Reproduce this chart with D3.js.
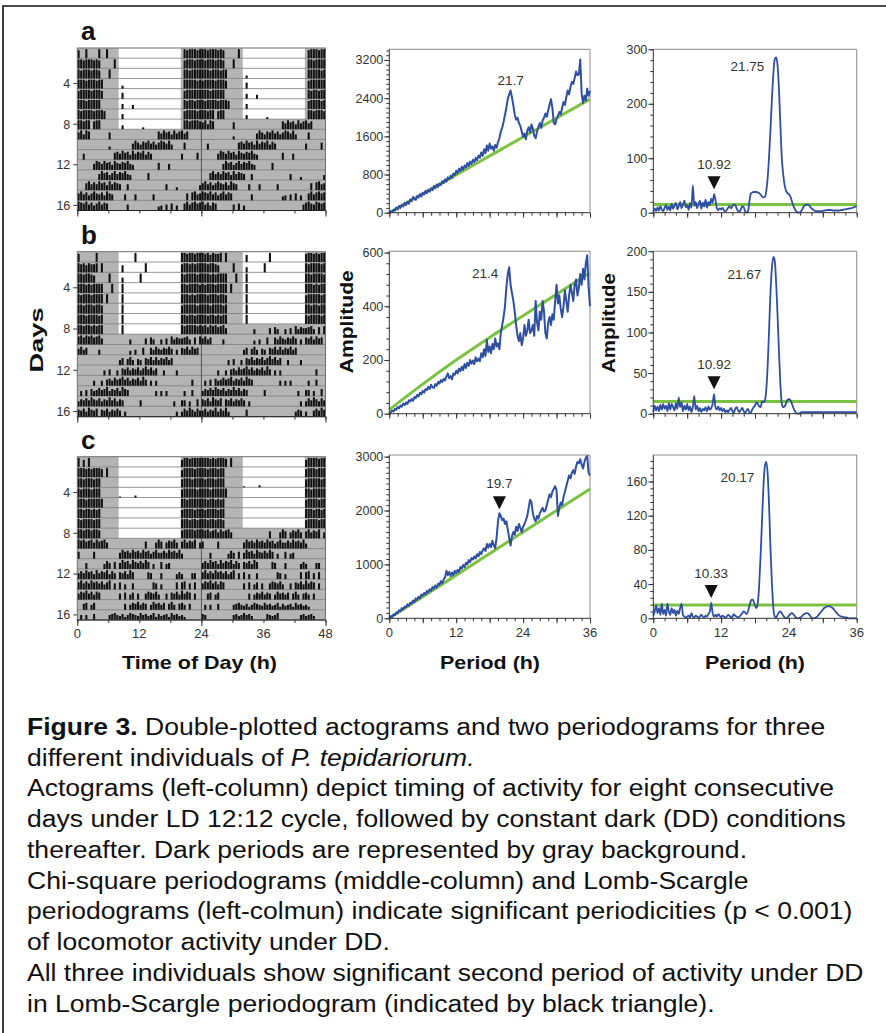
<!DOCTYPE html>
<html>
<head>
<meta charset="utf-8">
<script src="https://cdn.jsdelivr.net/npm/d3@7.9.0/dist/d3.min.js"></script>
<style>
  body { margin: 0; background: #fff; }
  svg { display: block; font-family: "Liberation Sans", Arial, sans-serif; }
  text { white-space: pre; }
</style>
</head>
<body>
<svg id="fig" width="886" height="1033"></svg>
<script>
// ---------- data ----------
const panelLetters = ['a', 'b', 'c'];
const ldDays = 8;               // days 1-8 under LD 12:12
const lightsOn = 8, lightsOff = 20;
const actoRowTicks = [4, 8, 12, 16];
const actoHourTicks = [0, 12, 24, 36, 48];
const periodTicks = [0, 12, 24, 36];

// activity per day, 0.5 h bins (6 groups of 4 h), level 0-9
const actoA = [
  "80090000 90090000 00000000 00000000 00000000 09899989",
  "99899989 80000090 00000000 00000000 00000000 08999899",
  "98999899 80009000 00000000 00000000 00000000 09989999",
  "99989998 99000000 03000000 00000000 00000000 09999989",
  "89999899 98000000 06000000 00000000 00000000 08999999",
  "99989999 90000000 05000400 00000000 00000000 09899899",
  "98999989 99800000 05000000 00000000 00000000 08999989",
  "99899089 90000000 04000000 02000000 00000000 09989998",
  "79598000 00007000 00000000 00000008 69785968 96800000",
  "00000000 00003000 00000697 58796857 98695000 07000000",
  "00600000 00000078 69785968 79586000 00000000 60000070",
  "00000069 86978597 68796500 00000007 00060000 00000000",
  "00000000 69785796 87965000 00070000 00000000 00000000",
  "00079686 97859687 60060000 00000000 00600030 00000005",
  "79685797 68597600 00600060 00000600 00000000 00708967",
  "98796857 96870000 00060000 00000004 50607050 07968978",
  "96858700 00006070 50000000 00000000 00000006 89769878"
];
const actoB = [
  "80000009 00000000 00000090 00000000 00000000 99899899",
  "98979889 09000000 07000000 00900000 00000000 89989899",
  "99899870 00009000 05000000 90000000 00000000 98999989",
  "99989899 99000900 09000000 00000000 00000000 99899998",
  "98999899 99090000 09000000 00000000 00000000 99989899",
  "99899989 98000000 09000000 00000000 00000000 89999989",
  "99989999 89000000 09000000 00000000 00000000 99899899",
  "99899898 99000000 09000000 00000000 00000000 98999989",
  "89798978 96000000 00005000 00607500 50608576 67850708",
  "68570000 50000000 00004050 07007586 57686050 76858670",
  "00000000 00000000 57068506 50768585 76857000 00000000",
  "00000000 00506005 07685768 57968570 05000050 00000000",
  "00000050 05067586 79685768 59605050 00000000 00006000",
  "05060756 86795768 59760000 00000050 50500000 05006000",
  "57686976 85769685 76000000 60000000 00000500 66050070",
  "76859768 07685768 60500000 00000000 00000050 58697586",
  "68576958 69500000 07000000 00000000 00005760 50068697"
];
const actoC = [
  "90709000 00000000 00000000 00000000 00000000 79989999",
  "99989899 98090000 00000000 00000000 00000000 79999899",
  "99899989 90000000 00000000 00000000 00000000 89998999",
  "98999899 90000000 10000020 00000000 00000000 89999989",
  "99989999 99000000 00000000 00000000 00000000 99899999",
  "99899898 90000000 00000000 00000000 00000000 89999899",
  "98999989 90000000 00000000 00000000 00000000 99989989",
  "99899899 80000000 00000000 00000000 00000000 89999899",
  "98978969 78960000 00000000 00700069 70687960 79687906",
  "70000070 00000000 69786978 69785796 68697869 50000000",
  "00060000 00586070 69785976 86970500 70560000 00000000",
  "68697859 68795860 76859700 00076000 60000057 50006600",
  "79686978 68579060 70500600 00000760 50000070 78060700",
  "68796858 70000000 60705706 00687685 00607685 96870600",
  "00670570 00000000 00605768 57605867 57068506 75060000",
  "05050060 00005675 46357654 75645736 45637564 53000000",
  "65000000 00005645 75640000 06545700 00000056 45640000"
];

// periodograms sampled every 0.25 h from 0 to 36 h
const periodStep = 0.25;
const chiA = [
  0,30,10,60, 40,110,70,140, 100,170,130,210, 160,230,190,280,
  240,330,290,270, 350,320,390,340, 420,380,460,410, 480,440,510,470,
  560,510,590,540, 610,580,660,620, 700,650,740,700, 780,730,820,790,
  880,830,920,870, 960,900,990,950, 1040,980,1070,1020, 1110,1060,1150,1100,
  1200,1150,1260,1190, 1330,1250,1410,1300, 1450,1340,1390,1300, 1420,1360,1480,1560,
  1700,1780,1900,2050, 2200,2380,2480,2560, 2420,2250,2060,1950, 1990,1880,1820,1700,
  1590,1660,1540,1720, 1790,1680,1850,1760, 1610,1560,1700,1800, 1880,1780,1930,1990,
  2080,2010,2140,2260, 2380,2200,1880,1850, 1960,2030,2110,2060, 2200,2320,2260,2420,
  2560,2480,2640,2740, 2700,2820,2960,2880, 2900,3210,2500,2300, 2450,2350,2600,2450,
  2550
];
const chiB = [
  0,5,12,8, 18,14,25,20, 30,26,38,32, 42,36,50,45,
  55,48,62,58, 70,64,78,72, 85,78,92,88, 100,92,108,98,
  96,110,104,118, 112,125,118,130, 124,138,150,132, 140,128,150,145,
  160,150,168,158, 175,162,185,170, 190,178,200,186, 198,185,210,195,
  205,195,225,210, 240,215,275,230, 250,225,260,240, 280,250,262,240,
  300,330,360,400, 470,520,545,480, 450,420,380,330, 290,270,300,255,
  280,330,290,310, 350,300,310,330, 290,420,340,310, 380,350,420,380,
  300,280,340,360, 330,370,350,420, 480,410,440,390, 360,400,460,420,
  380,440,480,450, 420,480,500,440, 470,520,480,540, 500,560,590,470,
  400
];
const chiC = [
  0,40,20,70, 60,110,90,150, 130,190,160,220, 200,260,230,290,
  270,330,300,370, 340,400,370,440, 420,470,440,510, 480,540,510,580,
  550,610,570,640, 620,690,650,720, 760,880,800,860, 780,850,800,880,
  840,900,860,950, 920,990,950,1030, 1000,1080,1040,1120, 1090,1150,1110,1190,
  1150,1230,1190,1260, 1300,1250,1380,1310, 1380,1320,1440,1350, 1300,1500,1800,1950,
  1900,1820,1850,1750, 1800,1650,1500,1350, 1520,1600,1550,1700, 1620,1750,1680,1600,
  1700,1750,1820,1900, 2050,2200,2150,1950, 1850,1800,1900,1850, 1950,2000,2050,1980,
  2000,2100,2200,2300, 2250,2350,2400,2450, 2380,1900,2050,2150, 2100,2250,2350,2450,
  2550,2650,2600,2700, 2750,2680,2820,2900, 2880,2950,2850,2780, 2900,2980,3010,2700,
  2650
];
// chi-square significance lines, every 6 h
const thrPeriods = [0, 6, 12, 18, 24, 30, 36];
const chiThrA = [0, 397, 793, 1190, 1587, 1983, 2380];
const chiThrB = [15, 110, 200, 284, 365, 445, 525];
const chiThrC = [0, 400, 800, 1200, 1600, 2000, 2400];

const lsA = [
  2,8,3,10, 4,12,6,3, 9,14,5,11, 4,16,7,13,
  18,6,12,20, 8,15,22,10, 14,5,18,9, 50,12,20,8,
  16,22,7,19, 11,24,9,20, 14,26,18,34, 24,8,5,8,
  6,9,4,2, 5,9,12,8, 12,15,14,8, 3,2,6,12,
  10,3,0,2, 20,35,37,38, 38,38,37,36, 33,30,28,29,
  40,65,105,155, 210,255,282,285, 270,225,160,100, 70,50,40,36,
  34,30,22,14, 8,3,1,0, 1,4,9,13, 15,15,14,11,
  8,6,4,3, 3,3,3,3, 3,4,4,5, 5,5,5,4,
  4,4,4,4, 4,5,5,6, 6,7,7,8, 8,9,10,11,
  12
];
const lsB = [
  2,10,4,9, 3,11,5,12, 6,10,3,13, 5,12,8,4,
  13,6,20,8, 14,3,10,5, 12,4,9,2, 8,22,5,10,
  3,7,2,6, 4,8,3,9, 5,7,12,24, 8,5,9,4,
  7,3,6,2, 4,2,5,7, 3,1,6,8, 4,2,5,7,
  3,1,4,6, 2,1,5,8, 10,14,12,9, 8,15,14,16,
  30,60,105,150, 180,193,188,160, 120,75,35,12, 8,9,13,17,
  18,17,13,8, 4,1,0,0, 1,2,2,2, 2,2,2,2,
  2,2,2,2, 2,2,2,2, 2,2,2,2, 2,2,2,2,
  2,2,2,2, 2,2,2,2, 2,2,2,2, 2,2,2,2,
  2
];
const lsC = [
  3,8,15,6, 12,4,17,5, 10,3,17,8, 4,12,6,10,
  3,9,5,12, 17,4,2,1, 2,3,1,6, 2,1,3,2,
  1,2,4,2, 1,3,2,5, 8,18,6,2, 4,2,5,3,
  1,3,2,1, 2,4,3,1, 2,5,3,2, 1,2,4,6,
  8,7,5,8, 14,20,22,20, 15,12,18,40, 75,115,155,178,
  183,168,130,80, 40,12,2,1, 4,7,8,6, 3,1,0,1,
  3,5,6,5, 3,1,0,0, 1,2,4,5, 6,6,5,3,
  1,0,0,1, 2,4,6,8, 10,12,13,14, 14,14,13,12,
  10,8,6,4, 3,2,2,1, 1,1,0,0, 0,0,0,0,
  0
];
const lsThr = [15, 15, 15.5];

const chiMax = [3424, 605, 3030];
const chiTicks = [[0, 800, 1600, 2400, 3200], [0, 200, 400, 600], [0, 1000, 2000, 3000]];
const chiMinorStep = [100, 40, 100];
const lsMax = [300, 200, 191];
const lsTicks = [[0, 100, 200, 300], [0, 50, 100, 150, 200], [0, 40, 80, 120, 160]];
const lsMinorStep = [20, 10, 8];

const chiPeakLabel = ['21.7', '21.4', '19.7'];
const chiPeakPeriod = [21.75, 21.5, 19.75];
const chiTriangle = [false, false, true];
const lsPeakLabel = ['21.75', '21.67', '20.17'];
const lsPeakPeriod = [21.75, 21.25, 20.0];
const lsSecondLabel = ['10.92', '10.92', '10.33'];
const lsSecondPeriod = [10.75, 10.75, 10.25];

const caption = [
  [['Figure 3.', 'b'], [' Double-plotted actograms and two periodograms for three', '']],
  [['different individuals of ', ''], ['P. tepidariorum.', 'i']],
  [['Actograms (left-column) depict timing of activity for eight consecutive', '']],
  [['days under LD 12:12 cycle, followed by constant dark (DD) conditions', '']],
  [['thereafter. Dark periods are represented by gray background.', '']],
  [['Chi-square periodograms (middle-column) and Lomb-Scargle', '']],
  [['periodograms (left-colmun) indicate significant periodicities (p < 0.001)', '']],
  [['of locomotor activity under DD.', '']],
  [['All three individuals show significant second period of activity under DD', '']],
  [['in Lomb-Scargle periodogram (indicated by black triangle).', '']]
];

// ---------- layout ----------
const svg = d3.select('#fig');
const blue = '#2f4fa2', green = '#7cc242', grayBg = '#b4b4b4';
const plotTop = [49.3, 251.2, 455];
const plotBot = [212.7, 413.7, 618.3];
const actoTop = [48, 251.7, 456.7];
const actoBot = [210.5, 416.7, 620];

const xActo = d3.scaleLinear().domain([0, 48]).range([77.3, 325.5]);
const xChi = d3.scaleLinear().domain([0, 36]).range([389.3, 590]);
const xLs = d3.scaleLinear().domain([0, 36]).range([653.3, 856.7]);

// figure border (left and top)
svg.append('path').attr('d', 'M3,1033V6H886').attr('fill', 'none')
  .attr('stroke', '#111').attr('stroke-width', 1.6);

function styleTicks(sel, size) {
  sel.select('.domain').remove();
  sel.selectAll('.tick line').attr('stroke', '#333');
  sel.selectAll('.tick text').attr('font-family', '"Liberation Sans", Arial, sans-serif')
    .attr('font-size', size || 12.5).attr('fill', '#333');
}

function xTicks(p, x, y0, minorStep, majorVals, labelVals, showLabels) {
  const [d0, d1] = x.domain();
  svg.append('g').attr('transform', `translate(0,${y0})`)
    .call(d3.axisBottom(x).tickValues(d3.range(d0, d1 + 1e-6, minorStep)).tickSize(3).tickFormat(''))
    .call(styleTicks);
  svg.append('g').attr('transform', `translate(0,${y0})`)
    .call(d3.axisBottom(x).tickValues(majorVals).tickSize(5).tickFormat(''))
    .call(styleTicks);
  if (showLabels) {
    svg.append('g').selectAll('text').data(labelVals).join('text')
      .attr('x', d => x(d)).attr('y', y0 + 19)
      .attr('text-anchor', 'middle').attr('font-size', 13).attr('fill', '#333')
      .text(d => d);
  }
  svg.append('line').attr('x1', x.range()[0]).attr('x2', x.range()[1])
    .attr('y1', y0).attr('y2', y0).attr('stroke', '#333');
}

function yTicks(y, x0, majorVals, minorStep) {
  const top = y.domain()[1];
  svg.append('g').attr('transform', `translate(${x0},0)`)
    .call(d3.axisLeft(y).tickValues(d3.range(0, top + 1e-6, minorStep)).tickSize(3).tickFormat(''))
    .call(styleTicks);
  svg.append('g').attr('transform', `translate(${x0},0)`)
    .call(d3.axisLeft(y).tickValues(majorVals).tickSize(5).tickPadding(1).tickFormat(d => String(d)))
    .call(styleTicks);
  svg.append('line').attr('x1', x0).attr('x2', x0)
    .attr('y1', y.range()[0]).attr('y2', y.range()[1]).attr('stroke', '#333');
}

function frame(x, y) {
  const [x0, x1] = x.range(), [yb, yt] = y.range();
  svg.append('path').attr('d', `M${x0},${yt}H${x1}V${yb}`)
    .attr('fill', 'none').attr('stroke', '#8a8a8a').attr('stroke-width', 1);
}

// ---------- actograms ----------
function drawActogram(p, days) {
  const top = actoTop[p], bot = actoBot[p];
  const rh = (bot - top) / 16;
  const bins = days.map(s => s.replace(/ /g, '').split('').map(Number));
  const g = svg.append('g');
  g.append('rect').attr('x', xActo(0)).attr('y', top)
    .attr('width', xActo(48) - xActo(0)).attr('height', bot - top).attr('fill', grayBg);

  const lights = [];
  const bars = [];
  for (let r = 0; r < 16; r++) {
    [0, 1].forEach(half => {
      const d = r + half;
      if (d < ldDays) lights.push({ r, t0: half * 24 + lightsOn, t1: half * 24 + lightsOff });
      bins[d].forEach((v, k) => {
        if (v > 0) bars.push({ r, t: half * 24 + k * 0.5, v });
      });
    });
  }
  g.selectAll('rect.light').data(lights).join('rect').attr('class', 'light')
    .attr('x', d => xActo(d.t0)).attr('width', d => xActo(d.t1) - xActo(d.t0))
    .attr('y', d => top + d.r * rh).attr('height', rh).attr('fill', '#fff');

  g.selectAll('line.row').data(d3.range(1, 16)).join('line').attr('class', 'row')
    .attr('x1', xActo(0)).attr('x2', xActo(48))
    .attr('y1', d => top + d * rh).attr('y2', d => top + d * rh)
    .attr('stroke', '#808080').attr('stroke-width', 0.8);

  g.append('line').attr('x1', xActo(24)).attr('x2', xActo(24))
    .attr('y1', top).attr('y2', bot).attr('stroke', '#555').attr('stroke-width', 1);

  const bw = (xActo(0.5) - xActo(0)) * 0.8;
  g.selectAll('rect.bar').data(bars).join('rect').attr('class', 'bar')
    .attr('x', d => xActo(d.t + 0.05)).attr('width', bw)
    .attr('y', d => top + (d.r + 1) * rh - d.v / 9 * (rh - 1.2))
    .attr('height', d => d.v / 9 * (rh - 1.2)).attr('fill', '#111');

  g.append('rect').attr('x', xActo(0)).attr('y', top)
    .attr('width', xActo(48) - xActo(0)).attr('height', bot - top)
    .attr('fill', 'none').attr('stroke', '#707070');

  // day ticks
  const yDay = d => top + (d - 0.5) * rh;
  g.selectAll('line.dt').data(actoRowTicks).join('line').attr('class', 'dt')
    .attr('x1', xActo(0) - 4).attr('x2', xActo(0)).attr('y1', yDay).attr('y2', yDay).attr('stroke', '#333');
  g.selectAll('text.dl').data(actoRowTicks).join('text').attr('class', 'dl')
    .attr('x', xActo(0) - 7).attr('y', yDay).attr('dy', '0.35em')
    .attr('text-anchor', 'end').attr('font-size', 12.5).attr('fill', '#333').text(d => d);

  // hour axis
  svg.append('line').attr('x1', xActo(0)).attr('x2', xActo(48)).attr('y1', bot).attr('y2', bot).attr('stroke', '#222');
  svg.append('g').attr('transform', `translate(0,${bot})`)
    .call(d3.axisBottom(xActo).tickValues(d3.range(0, 49, 6)).tickSize(3).tickFormat(''))
    .call(styleTicks);
  svg.append('g').attr('transform', `translate(0,${bot})`)
    .call(d3.axisBottom(xActo).tickValues([0, 24, 48]).tickSize(6).tickFormat(''))
    .call(styleTicks);
  if (p === 2) {
    svg.append('g').selectAll('text').data(actoHourTicks).join('text')
      .attr('x', d => xActo(d)).attr('y', bot + 18)
      .attr('text-anchor', 'middle').attr('font-size', 13).attr('fill', '#333').text(d => d);
  }
}

// ---------- periodograms ----------
const periodsOf = vals => vals.map((_, i) => i * periodStep);

function triangle(cx, bottom) {
  svg.append('path').attr('d', `M${cx - 6.5},${bottom - 13}H${cx + 6.5}L${cx},${bottom}Z`).attr('fill', '#111');
}

function drawChi(p, vals, thr) {
  const y = d3.scaleLinear().domain([0, chiMax[p]]).range([plotBot[p], plotTop[p]]);
  frame(xChi, y);
  const pts = periodsOf(vals);
  svg.append('path').datum(thrPeriods.map((t, i) => [t, thr[i]]))
    .attr('d', d3.line().x(d => xChi(d[0])).y(d => y(d[1])).curve(d3.curveMonotoneX))
    .attr('fill', 'none').attr('stroke', green).attr('stroke-width', 3);
  svg.append('path').datum(pts.map((t, i) => [t, vals[i]]))
    .attr('d', d3.line().x(d => xChi(d[0])).y(d => y(d[1])))
    .attr('fill', 'none').attr('stroke', blue).attr('stroke-width', 2).attr('stroke-linejoin', 'round');
  yTicks(y, xChi(0), chiTicks[p], chiMinorStep[p]);
  xTicks(p, xChi, plotBot[p], 1.5, [0, 6, 12, 18, 24, 30, 36], periodTicks, p === 2);

  const i = Math.round(chiPeakPeriod[p] / periodStep);
  const px = xChi(chiPeakPeriod[p]), py = y(vals[i]);
  const lab = svg.append('text').attr('font-size', 13.5).attr('fill', '#333').text(chiPeakLabel[p]);
  if (chiTriangle[p]) {
    triangle(px, py - 4);
    lab.attr('x', px).attr('y', py - 25).attr('text-anchor', 'middle');
  } else if (p === 0) {
    lab.attr('x', px).attr('y', py - 6).attr('text-anchor', 'middle');
  } else {
    lab.attr('x', px - 11).attr('y', py + 11).attr('text-anchor', 'end');
  }
}

const lsLabelDy = [14, 22, 20];
function drawLs(p, vals) {
  const y = d3.scaleLinear().domain([0, lsMax[p]]).range([plotBot[p], plotTop[p]]);
  frame(xLs, y);
  const pts = periodsOf(vals);
  svg.append('line').attr('x1', xLs(0)).attr('x2', xLs(36))
    .attr('y1', y(lsThr[p])).attr('y2', y(lsThr[p])).attr('stroke', green).attr('stroke-width', 3);
  svg.append('path').datum(pts.map((t, i) => [t, vals[i]]))
    .attr('d', d3.line().x(d => xLs(d[0])).y(d => y(d[1])).curve(d3.curveMonotoneX))
    .attr('fill', 'none').attr('stroke', blue).attr('stroke-width', 1.8).attr('stroke-linejoin', 'round');
  yTicks(y, xLs(0), lsTicks[p], lsMinorStep[p]);
  xTicks(p, xLs, plotBot[p], 2, [0, 6, 12, 18, 24, 30, 36], periodTicks, p === 2);

  const i = Math.round(lsPeakPeriod[p] / periodStep);
  const px = xLs(lsPeakPeriod[p]), py = y(vals[i]);
  svg.append('text').attr('x', px - 12).attr('y', py + lsLabelDy[p])
    .attr('text-anchor', 'end').attr('font-size', 13.5).attr('fill', '#333').text(lsPeakLabel[p]);

  const j = Math.round(lsSecondPeriod[p] / periodStep);
  const sx = xLs(lsSecondPeriod[p]), sy = y(vals[j]);
  triangle(sx, sy - 5);
  svg.append('text').attr('x', sx).attr('y', sy - 25)
    .attr('text-anchor', 'middle').attr('font-size', 13.5).attr('fill', '#333').text(lsSecondLabel[p]);
}

[actoA, actoB, actoC].forEach((d, p) => drawActogram(p, d));
[[chiA, chiThrA], [chiB, chiThrB], [chiC, chiThrC]].forEach(([v, t], p) => drawChi(p, v, t));
[lsA, lsB, lsC].forEach((v, p) => drawLs(p, v));

// panel letters
const letterY = [40, 243.5, 448.5];
svg.selectAll('text.letter').data(panelLetters).join('text').attr('class', 'letter')
  .attr('x', 81).attr('y', (d, i) => letterY[i])
  .attr('font-size', 26).attr('font-weight', 'bold').attr('fill', '#111').text(d => d);

// axis titles
function title(txt, x, y, len, rot) {
  svg.append('text').attr('transform', `translate(${x},${y})` + (rot ? ' rotate(-90)' : ''))
    .attr('text-anchor', 'middle').attr('dy', rot ? '0.35em' : 0)
    .attr('font-size', 19).attr('font-weight', 'bold').attr('fill', '#111')
    .attr('textLength', len).attr('lengthAdjust', 'spacingAndGlyphs').text(txt);
}
title('Time of Day (h)', 199.5, 669, 155);
title('Period (h)', 490, 669, 100);
title('Period (h)', 755, 669, 100);
title('Days', 36.7, 340, 65, true);
title('Amplitude', 346.7, 321.7, 103, true);
title('Amplitude', 608.3, 323, 100, true);

// caption (the original face is a little wider than Liberation Sans)
const cap = svg.append('g').attr('transform', 'translate(27,0) scale(1.13,1)');
caption.forEach((line, i) => {
  const t = cap.append('text').attr('x', 0).attr('y', 735 + i * 30.75)
    .attr('font-size', 23.5).attr('fill', '#111');
  line.forEach(([s, st]) => {
    t.append('tspan').text(s)
      .attr('font-weight', st === 'b' ? 'bold' : null)
      .attr('font-style', st === 'i' ? 'italic' : null);
  });
});
</script>
</body>
</html>
